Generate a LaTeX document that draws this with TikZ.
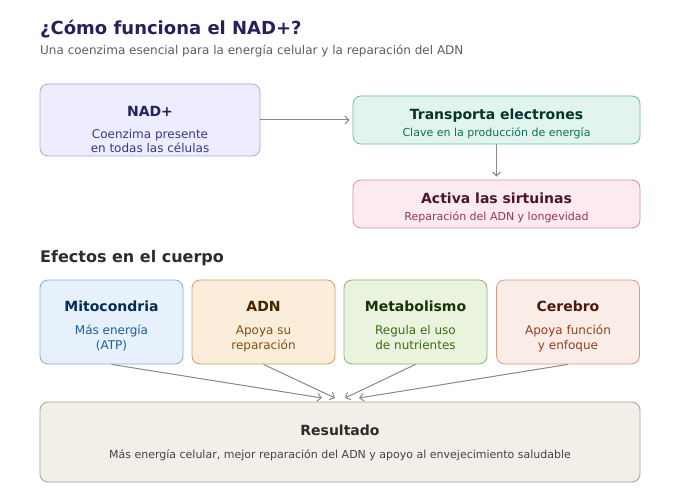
\documentclass[tikz,border=0pt]{standalone}
\usepackage{fontspec}
\setmainfont{DejaVu Sans}
\usetikzlibrary{arrows.meta}
\definecolor{ttl}{HTML}{26215C}
\definecolor{subg}{HTML}{5F5E5A}
\definecolor{hdr}{HTML}{2C2C2A}
\definecolor{arrg}{HTML}{8A8982}
\definecolor{pF}{HTML}{EEEDFE}\definecolor{pD}{HTML}{ABA5E8}\definecolor{pT}{HTML}{26215C}\definecolor{pS}{HTML}{3C3489}
\definecolor{tF}{HTML}{E1F5EE}\definecolor{tD}{HTML}{6CBFA0}\definecolor{tT}{HTML}{04342C}\definecolor{tS}{HTML}{0F6E56}
\definecolor{kF}{HTML}{FBEAF0}\definecolor{kD}{HTML}{D890AA}\definecolor{kT}{HTML}{4B1528}\definecolor{kS}{HTML}{993556}
\definecolor{bF}{HTML}{E6F1FB}\definecolor{bD}{HTML}{7FAEE0}\definecolor{bT}{HTML}{042C53}\definecolor{bS}{HTML}{185FA5}
\definecolor{aF}{HTML}{FAEEDA}\definecolor{aD}{HTML}{CBA06A}\definecolor{aT}{HTML}{412402}\definecolor{aS}{HTML}{854F0B}
\definecolor{gF}{HTML}{EAF3DE}\definecolor{gD}{HTML}{8DB56A}\definecolor{gT}{HTML}{173404}\definecolor{gS}{HTML}{3B6D11}
\definecolor{cF}{HTML}{FAECE7}\definecolor{cD}{HTML}{D89A86}\definecolor{cT}{HTML}{4A1B0C}\definecolor{cS}{HTML}{993C1D}
\definecolor{rF}{HTML}{F1EFE8}\definecolor{rD}{HTML}{A4A29A}\definecolor{rT}{HTML}{2C2C2A}\definecolor{rS}{HTML}{444441}
\tikzset{
  box/.style={rectangle, rounded corners=8pt, line width=0.8pt, inner sep=0pt},
  ttlfont/.style={font=\bfseries\fontsize{14}{17}\selectfont, anchor=base, inner sep=0pt},
  subfont/.style={font=\fontsize{12}{14.5}\selectfont, anchor=base, inner sep=0pt, align=center},
  smallfont/.style={font=\fontsize{11}{13}\selectfont, anchor=base, inner sep=0pt, align=center},
  arr/.style={draw=arrg, line width=1pt, -{Straight Barb[length=4pt,width=8pt,line width=1pt]}},
}
\begin{document}
\begin{tikzpicture}[x=1pt,y=-1pt]
\useasboundingbox (0,0) rectangle (680,500);
\fill[white] (0,0) rectangle (680,500);
% heading
\node[font=\bfseries\fontsize{18}{22}\selectfont, text=ttl, anchor=base west, inner sep=0pt] (title) at (40,35) {¿Cómo funciona el NAD+?};
\node[font=\fontsize{12}{14}\selectfont, text=subg, anchor=base west, inner sep=0pt] (subtitle) at (40,55) {Una coenzima esencial para la energía celular y la reparación del ADN};
% top boxes
\node[box, fill=pF, draw=pD, minimum width=220pt, minimum height=72pt] (nad) at (150,120) {};
\node[box, fill=tF, draw=tD, minimum width=287pt, minimum height=48pt] (trans) at (496.5,120) {};
\node[box, fill=kF, draw=kD, minimum width=287pt, minimum height=48pt] (act) at (496.5,204) {};
\node[ttlfont, text=pT] (nadT) at (150,117) {NAD+};
\node[subfont, text=pS] (nadS) at (150,153) {Coenzima presente\\en todas las células};
\node[ttlfont, text=tT] (transT) at (496.5,119.5) {Transporta electrones};
\node[smallfont, text=tS] (transS) at (496.5,136) {Clave en la producción de energía};
\node[ttlfont, text=kT] (actT) at (496.5,203.5) {Activa las sirtuinas};
\node[smallfont, text=kS] (actS) at (496.5,220) {Reparación del ADN y longevidad};
\draw[arr, shorten >=3pt] (nad.east) -- (trans.west);
\draw[arr, shorten >=3pt] (trans.south) -- (act.north);
% section header
\node[font=\bfseries\fontsize{16}{19}\selectfont, text=hdr, anchor=base west, inner sep=0pt] (efectos) at (40,262) {Efectos en el cuerpo};
% four boxes
\node[box, fill=bF, draw=bD, minimum width=143pt, minimum height=84pt] (mito) at (111.5,322) {};
\node[box, fill=aF, draw=aD, minimum width=143pt, minimum height=84pt] (adn) at (263.5,322) {};
\node[box, fill=gF, draw=gD, minimum width=143pt, minimum height=84pt] (meta) at (415.5,322) {};
\node[box, fill=cF, draw=cD, minimum width=143pt, minimum height=84pt] (cere) at (568,322) {};
\node[ttlfont, text=bT] (mitoT) at (111.5,311) {Mitocondria};
\node[subfont, text=bS] (mitoS) at (111.5,349) {Más energía\\(ATP)};
\node[ttlfont, text=aT] (adnT) at (263.5,311) {ADN};
\node[subfont, text=aS] (adnS) at (263.5,349) {Apoya su\\reparación};
\node[ttlfont, text=gT] (metaT) at (415.5,311) {Metabolismo};
\node[subfont, text=gS] (metaS) at (415.5,349) {Regula el uso\\de nutrientes};
\node[ttlfont, text=cT] (cereT) at (568,311) {Cerebro};
\node[subfont, text=cS] (cereS) at (568,349) {Apoya función\\y enfoque};
% result
\node[box, fill=rF, draw=rD, minimum width=600pt, minimum height=80pt] (res) at (340,442) {};
\node[ttlfont, text=rT] (resT) at (340,435) {Resultado};
\node[smallfont, text=rS] (resS) at (340,458) {Más energía celular, mejor reparación del ADN y apoyo al envejecimiento saludable};
\coordinate (r1) at (322,398);
\coordinate (r2) at (335,398);
\coordinate (r3) at (345,398);
\coordinate (r4) at (359,398);
\draw[arr] (mito.south) -- (r1);
\draw[arr] (adn.south) -- (r2);
\draw[arr] (meta.south) -- (r3);
\draw[arr] (cere.south) -- (r4);
\end{tikzpicture}
\end{document}
